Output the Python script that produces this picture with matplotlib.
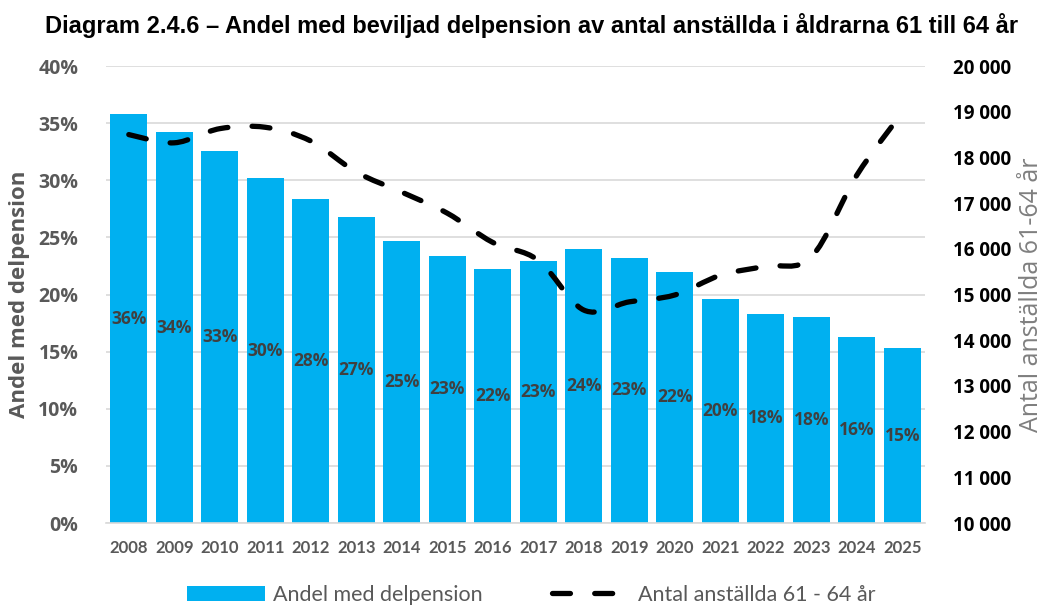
import matplotlib
matplotlib.use("Agg")
import matplotlib.pyplot as plt
import numpy as np
from matplotlib.path import Path
from matplotlib.patches import PathPatch, Patch
from matplotlib.lines import Line2D
from matplotlib.ticker import FuncFormatter, MultipleLocator

years = ["2008", "2009", "2010", "2011", "2012", "2013", "2014", "2015", "2016",
         "2017", "2018", "2019", "2020", "2021", "2022", "2023", "2024", "2025"]
share_pct = [35.8, 34.2, 32.6, 30.2, 28.4, 26.8, 24.7, 23.4, 22.2,
             22.9, 24.0, 23.2, 22.0, 19.6, 18.3, 18.05, 16.25, 15.3]
employees = [18500, 18320, 18630, 18660, 18360, 17680, 17240, 16780, 16140,
             15750, 14660, 14840, 14990, 15420, 15620, 15820, 17610, 18980]

title = "Diagram 2.4.6 \u2013 Andel med beviljad delpension av antal anst\u00e4llda i \u00e5ldrarna 61 till 64 \u00e5r"
bar_label_name = "Andel med delpension"
line_label_name = "Antal anst\u00e4llda 61 - 64 \u00e5r"
left_ylabel = "Andel med delpension"
right_ylabel = "Antal anst\u00e4llda 61-64 \u00e5r"

BAR_COLOR = "#00B0F0"
GREY = "#595959"
DARK = "#404040"
TICKFONT = "Open Sans"

fig = plt.figure(figsize=(10.52, 6.12), dpi=100)
ax = fig.add_axes([0.1008, 0.1454, 0.7785, 0.7467])
ax2 = ax.twinx()

x = np.arange(len(years))
bars = ax.bar(x, share_pct, width=0.82, color=BAR_COLOR, zorder=2)
for xi, v in zip(x, share_pct):
    ax.text(xi, v / 2, f"{round(v):d}%", ha="center", va="center",
            fontsize=12.5, fontweight="bold", color=DARK, family=TICKFONT, zorder=3)

ax.set_ylim(0, 40)
ax.set_xlim(-0.5, len(years) - 0.5)
ax.yaxis.set_major_locator(MultipleLocator(5))
ax.yaxis.set_major_formatter(FuncFormatter(lambda v, p: f"{v:.0f}%"))
ax.grid(axis="y", color="#D9D9D9", linewidth=1.2, zorder=0)
ax.set_axisbelow(True)
ax.set_xticks(x)
ax.set_xticklabels(years)
for sp in ["top", "left", "right"]:
    ax.spines[sp].set_visible(False)
ax.spines["bottom"].set_color("#D9D9D9")
ax.spines["bottom"].set_linewidth(1.2)
ax.tick_params(axis="y", length=0, pad=20, labelsize=14, labelcolor=GREY)
ax.tick_params(axis="x", length=0, pad=12, labelsize=12, labelcolor=GREY)
for lab in ax.get_yticklabels():
    lab.set_fontweight("bold")
    lab.set_family(TICKFONT)
for lab in ax.get_xticklabels():
    lab.set_fontweight("bold")
    lab.set_family("Lato")
ax.set_ylabel(left_ylabel, fontsize=16, fontweight="bold", color=GREY,
              family=TICKFONT, labelpad=6)

# Smoothed line (Excel-style Bezier through data points)
xs = x.astype(float)
ys = np.array(employees, dtype=float)
n = len(xs)
verts = [(xs[0], ys[0])]
codes = [Path.MOVETO]
for i in range(n - 1):
    p0 = np.array([xs[max(i - 1, 0)], ys[max(i - 1, 0)]])
    p1 = np.array([xs[i], ys[i]])
    p2 = np.array([xs[i + 1], ys[i + 1]])
    p3 = np.array([xs[min(i + 2, n - 1)], ys[min(i + 2, n - 1)]])
    c1 = p1 + (p2 - p0) / 6.0
    c2 = p2 - (p3 - p1) / 6.0
    verts += [tuple(c1), tuple(c2), tuple(p2)]
    codes += [Path.CURVE4] * 3
LW = 3.8
DASH = (0, (3.4, 4.6))
patch = PathPatch(Path(verts, codes), fill=False, edgecolor="black", linewidth=LW,
                  linestyle=DASH, capstyle="round", zorder=4)
ax2.add_patch(patch)
ax2.set_ylim(10000, 20000)
ax2.yaxis.set_major_locator(MultipleLocator(1000))
ax2.yaxis.set_major_formatter(FuncFormatter(lambda v, p: f"{int(v):,}".replace(",", " ")))
for sp in ["top", "left", "right", "bottom"]:
    ax2.spines[sp].set_visible(False)
ax2.tick_params(axis="y", length=0, pad=20, labelsize=13.5, labelcolor="black")
for lab in ax2.get_yticklabels():
    lab.set_fontweight("bold")
    lab.set_family(TICKFONT)
ax2.set_ylabel(right_ylabel, fontsize=18, color="#7F7F7F", family=TICKFONT,
               labelpad=6)

fig.suptitle(title, x=0.505, y=0.978, fontsize=17, fontweight="bold",
             family="Liberation Sans")

handles = [Patch(facecolor=BAR_COLOR, edgecolor="none"),
           Line2D([0], [0], color="black", linewidth=LW, linestyle=DASH,
                  dash_capstyle="round")]
fig.legend(handles, [bar_label_name, line_label_name], loc="lower center",
           bbox_to_anchor=(0.505, -0.02), ncol=2, frameon=False,
           prop={"family": "Lato", "size": 15.5},
           labelcolor=GREY, handlelength=3.6, handleheight=0.7,
           columnspacing=3.2, handletextpad=0.4)

fig.savefig("out.png", dpi=100)
